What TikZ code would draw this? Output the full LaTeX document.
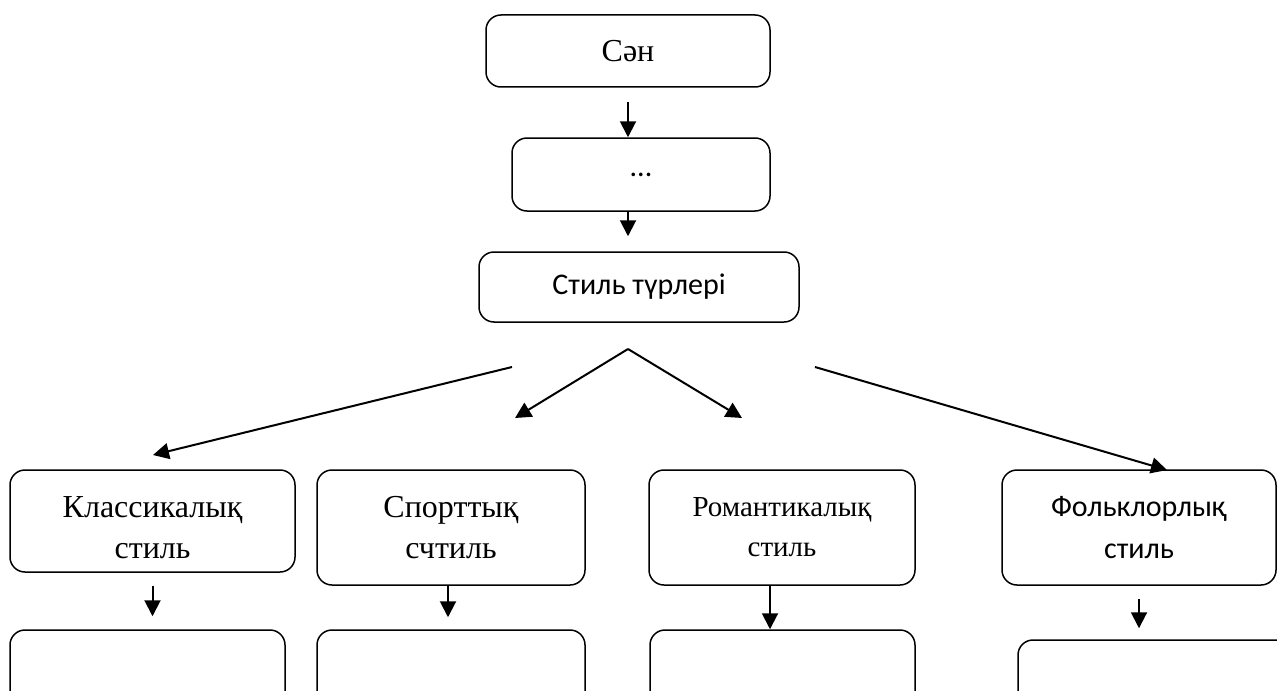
\documentclass[tikz,border=0pt]{standalone}
\usepackage{fontspec}
\setmainfont{Liberation Serif}
\newfontfamily\carlito{Carlito}
\usetikzlibrary{arrows.meta,calc}

\begin{document}
\begin{tikzpicture}[x=0.5pt,y=-0.5pt,
    boxnode/.style={draw, rounded corners=7.5pt, line width=0.75pt, inner sep=0pt, align=center},
    serifbig/.style={font=\fontsize{16}{20.5}\selectfont},
    serifmid/.style={font=\fontsize{14.5}{20}\selectfont},
    sansnode/.style={font=\carlito\fontsize{15}{21}\selectfont},
    arrowline/.style={-{Triangle[length=8pt,width=8pt]}, line width=1pt},]
    \clip (0,0) rectangle (1277,690);
    \node[boxnode,serifbig,minimum width=142pt,minimum height=36pt] at (628,51) (sen) {Сән};
    \node[boxnode,sansnode,minimum width=129pt,minimum height=36.5pt] at (641,174.5) (dots) {...};
    \node[boxnode,sansnode,minimum width=160pt,minimum height=35pt] at (639,287) (turleri) {Стиль түрлері};
    \node[boxnode,serifbig,minimum width=142.5pt,minimum height=51pt] at (152.5,521) (klassik) {\rule{0pt}{17pt}Классикалық\\стиль};
    \node[boxnode,serifbig,minimum width=134pt,minimum height=57.5pt] at (451,527.5) (sport) {Спорттық\\счтиль};
    \node[boxnode,serifmid,minimum width=133pt,minimum height=57.5pt] at (782,527.5) (romantik) {Романтикалық\\стиль};
    \node[boxnode,sansnode,minimum width=137pt,minimum height=57.5pt] at (1139,527.5) (folklor) {Фольклорлық\\стиль};
    \node[boxnode,minimum width=137.5pt,minimum height=50pt] at (147.5,680) (klassikB) {};
    \node[boxnode,minimum width=134pt,minimum height=50pt] at (451,680) (sportB) {};
    \node[boxnode,minimum width=132.5pt,minimum height=50pt] at (782.5,680) (romantikB) {};
    \node[boxnode,minimum width=141pt,minimum height=50pt] at (1159,690) (folklorB) {};
    \coordinate (apex) at (628,349);
    \coordinate (sportTip) at (515,418);
    \coordinate (romTip) at (742,418);
    \coordinate (klassikTail) at (512,367);
    \coordinate (klassikTip) at (153,455);
    \coordinate (folklorTail) at (815,367);
    \coordinate (folklorTip) at (1167,470);
    \draw[arrowline, shorten <=7pt] (sen.south) -- (sen.south |- dots.north);
    \draw[arrowline, shorten >=7.5pt] (sen.south |- dots.south) -- (sen.south |- turleri.north);
    \draw[arrowline] (apex) -- (sportTip);
    \draw[arrowline] (apex) -- (romTip);
    \draw[arrowline] (klassikTail) -- (klassikTip);
    \draw[arrowline] (folklorTail) -- (folklorTip);
    \draw[arrowline, shorten <=6.5pt, shorten >=6.5pt] (klassik.south) -- (klassik.south |- klassikB.north);
    \draw[arrowline, shorten >=6pt] ([xshift=-1.5pt]sport.south) -- ([xshift=-1.5pt]sport.south |- sportB.north);
    \draw[arrowline] ([xshift=-6pt]romantik.south) -- ([xshift=-6pt]romantik.south |- romantikB.north);
    \draw[arrowline, shorten <=6.5pt, shorten >=5.5pt] (folklor.south) -- (folklor.south |- folklorB.north);
\end{tikzpicture}
\end{document}
